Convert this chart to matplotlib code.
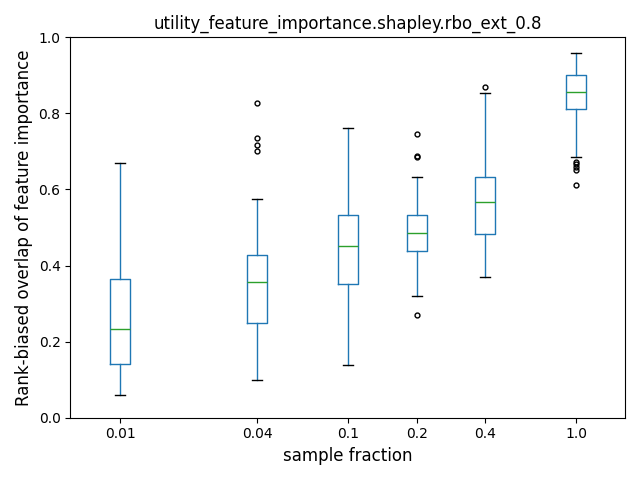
import numpy as np
import matplotlib
matplotlib.use("Agg")
import matplotlib.pyplot as plt

# sample fractions and the box statistics
fractions = [0.01, 0.04, 0.1, 0.2, 0.4, 1.0]
labels = ["0.01", "0.04", "0.1", "0.2", "0.4", "1.0"]
whislo = [0.060, 0.099, 0.139, 0.320, 0.370, 0.686]
q1 = [0.142, 0.249, 0.352, 0.439, 0.483, 0.812]
med = [0.233, 0.357, 0.452, 0.486, 0.567, 0.855]
q3 = [0.365, 0.428, 0.533, 0.533, 0.634, 0.902]
whishi = [0.670, 0.575, 0.762, 0.634, 0.854, 0.960]
fliers = [
    [],
    [0.828, 0.735, 0.718, 0.700],
    [],
    [0.746, 0.689, 0.686, 0.270],
    [0.870],
    [0.672, 0.666, 0.658, 0.650, 0.613],
]

stats = []
for i in range(len(fractions)):
    stats.append(dict(whislo=whislo[i], q1=q1[i], med=med[i], q3=q3[i],
                      whishi=whishi[i], fliers=fliers[i], label=labels[i]))

positions = np.log10(fractions)

fig, ax = plt.subplots(figsize=(6.4, 4.8), dpi=100)
ax.bxp(stats, positions=positions, widths=0.088, showfliers=True,
       boxprops=dict(color="C0"),
       whiskerprops=dict(color="C0"),
       capprops=dict(color="k"),
       medianprops=dict(color="C2"),
       flierprops=dict(marker="o", markersize=3.5, markeredgecolor="k",
                       markerfacecolor="none"))
ax.set_xticks(positions)
ax.set_xticklabels(labels)
ax.set_xlim(-2.219, 0.215)
ax.set_ylim(0, 1.0)
ax.set_title("utility_feature_importance.shapley.rbo_ext_0.8")
ax.set_xlabel("sample fraction", fontsize=12)
ax.set_ylabel("Rank-biased overlap of feature importance", fontsize=12)
fig.tight_layout()
fig.savefig("out.png")
